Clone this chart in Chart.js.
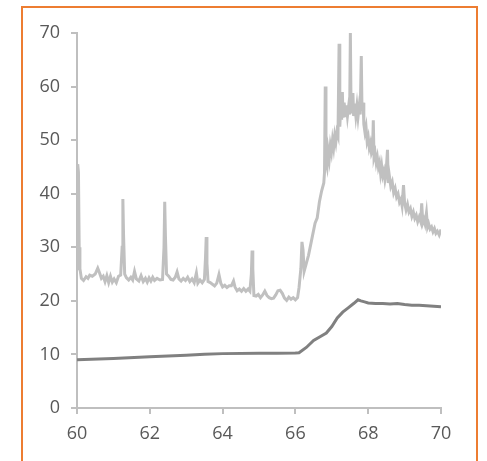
<!DOCTYPE html>
<html>
<head>
<meta charset="utf-8">
<script src="https://cdn.jsdelivr.net/npm/chart.js@4/dist/chart.umd.min.js"></script>
<style>
  html, body { margin: 0; padding: 0; background: #fff; overflow: hidden; }
  #frame {
    position: absolute; left: 21px; top: 6px; width: 453px; height: 470px;
    border: 2px solid #ED7D31;
  }
  #wrap { position: absolute; left: 0; top: 0; width: 487px; height: 461px; }
</style>
</head>
<body>
<div id="frame"></div>
<div id="wrap"><canvas id="chart"></canvas></div>
<script>
// noisy spectrum (light grey)
const lightX = [
  60.00, 60.02, 60.04, 60.06, 60.08, 60.12, 60.18, 60.25, 60.30, 60.35, 60.42, 60.50, 60.57, 60.62, 60.67,
  60.72, 60.77, 60.82, 60.87, 60.92, 60.97, 61.02, 61.08, 61.14, 61.20, 61.24, 61.26, 61.28, 61.31, 61.36,
  61.42, 61.48, 61.53, 61.58, 61.63, 61.70, 61.76, 61.82, 61.88, 61.93, 61.98, 62.03, 62.08, 62.13, 62.20,
  62.28, 62.35, 62.39, 62.41, 62.43, 62.46, 62.52, 62.58, 62.64, 62.70, 62.75, 62.80, 62.86, 62.92, 62.98,
  63.04, 63.10, 63.16, 63.22, 63.28, 63.32, 63.38, 63.44, 63.50, 63.53, 63.55, 63.57, 63.60, 63.66, 63.72,
  63.78, 63.84, 63.90, 63.95, 64.00, 64.06, 64.12, 64.18, 64.24, 64.30, 64.34, 64.40, 64.46, 64.52, 64.58,
  64.64, 64.70, 64.75, 64.79, 64.81, 64.83, 64.86, 64.92, 64.98, 65.04, 65.10, 65.16, 65.22, 65.28, 65.34,
  65.40, 65.46, 65.52, 65.58, 65.64, 65.70, 65.76, 65.82, 65.88, 65.94, 66.00, 66.06, 66.10, 66.15, 66.18,
  66.21, 66.24, 66.30, 66.36, 66.42, 66.48, 66.54, 66.60, 66.66, 66.72, 66.78, 66.80, 66.82, 66.84, 66.87,
  66.90, 66.93, 66.96, 66.99, 67.02, 67.05, 67.08, 67.11, 67.14, 67.17, 67.20, 67.22, 67.24, 67.27, 67.29,
  67.31, 67.34, 67.37, 67.40, 67.43,
  67.46, 67.49, 67.51, 67.53, 67.56, 67.58, 67.60, 67.63, 67.66, 67.69, 67.72, 67.75, 67.78, 67.81, 67.83,
  67.86, 67.88, 67.91, 67.94, 67.97,
  68.00, 68.03, 68.06, 68.09, 68.12, 68.14, 68.16, 68.19, 68.22, 68.25, 68.28, 68.31, 68.34, 68.37, 68.40,
  68.43, 68.46, 68.49, 68.53, 68.55,
  68.58, 68.62, 68.66, 68.70, 68.74, 68.78, 68.82, 68.86, 68.90, 68.93, 68.97, 69.00, 69.04, 69.08, 69.12,
  69.16, 69.20, 69.24, 69.28, 69.32, 69.36, 69.40, 69.44, 69.47, 69.50, 69.53, 69.56, 69.60, 69.63, 69.66,
  69.70, 69.74, 69.78, 69.82, 69.86, 69.90, 69.95, 70.00
];
const lightY = [
  26.0, 45.5, 44.0, 30.0, 26.0, 24.2, 23.8, 24.5, 24.2, 24.8, 24.6, 25.0, 26.1, 25.2, 24.2,
  24.6, 23.6, 24.7, 23.4, 24.6, 23.5, 24.1, 23.4, 24.6, 24.8, 30.0, 39.0, 32.0, 25.0, 24.3,
  23.9, 24.4, 23.9, 25.5, 24.1, 23.7, 24.7, 23.6, 24.2, 23.5, 24.3, 23.7, 24.4, 23.8, 24.2,
  23.9, 24.0, 30.0, 38.5, 32.0, 25.0, 24.6, 24.0, 23.9, 24.4, 25.4, 24.1, 23.7, 24.2, 23.8,
  24.4, 23.6, 24.1, 23.4, 25.2, 23.3, 23.9, 23.4, 24.0, 28.0, 31.9, 27.0, 23.6, 23.4, 23.1,
  22.8, 23.3, 24.9, 23.3, 22.6, 22.9, 22.5, 22.8, 22.8, 23.7, 22.6, 21.9, 22.2, 21.8, 22.3,
  21.8, 22.2, 21.8, 25.0, 29.4, 26.0, 21.0, 20.9, 21.2, 20.6, 21.1, 21.8, 21.0, 20.6, 20.4,
  20.5, 21.1, 21.9, 22.0, 21.4, 20.5, 20.1, 20.7, 20.3, 20.6, 20.2, 20.6, 22.5, 26.0, 31.0,
  29.5, 25.5, 27.0, 28.5, 30.5, 32.5, 34.5, 35.5, 38.5, 40.5, 42.0, 44.0, 60.0, 46.0, 45.0,
  48.0, 46.5, 49.0, 47.8, 50.0, 48.6, 50.8, 49.6, 51.5, 50.8, 68.0, 52.5, 55.5, 53.8, 59.0,
  54.2, 57.0, 54.3, 56.5, 54.5,
  56.2, 54.8, 70.0, 55.0, 57.5, 58.8, 54.5, 56.8, 54.6, 56.4, 54.3, 56.2, 54.8, 65.7, 55.5,
  57.0, 53.0, 51.5, 52.5, 49.8,
  50.6, 48.6, 49.4, 47.6, 48.2, 53.7, 46.8, 47.6, 45.8, 46.8, 45.0, 45.8, 43.8, 45.2, 43.4,
  44.2, 42.6, 43.8, 48.2, 42.0,
  43.4, 41.4, 42.2, 40.2, 41.0, 39.4, 40.0, 38.4, 39.0, 37.8, 41.6, 38.3, 37.0, 38.0, 36.6,
  37.2, 35.8, 36.6, 35.4, 36.0, 34.8, 35.6, 34.8, 38.2, 34.6, 35.2, 34.4, 36.4, 33.8, 34.4,
  33.4, 33.8, 32.9, 33.5, 32.6, 33.0, 32.3, 33.3
];

// smooth baseline (dark grey)
const darkX = [
  60.0, 61.0, 62.0, 63.0, 63.5, 64.0, 65.0, 65.5, 66.0, 66.1, 66.3, 66.5, 66.7, 66.85, 67.0,
  67.15, 67.3, 67.45, 67.6, 67.72, 67.8, 67.9, 68.0, 68.2, 68.4, 68.6, 68.8, 69.0, 69.2, 69.4,
  69.6, 69.8, 70.0
];
const darkY = [
  9.0, 9.25, 9.55, 9.85, 10.05, 10.15, 10.2, 10.2, 10.25, 10.3, 11.3, 12.6, 13.4, 14.0, 15.2,
  16.8, 17.9, 18.7, 19.5, 20.2, 20.0, 19.8, 19.6, 19.5, 19.5, 19.4, 19.5, 19.3, 19.2, 19.2,
  19.1, 19.0, 18.9
];

const toPoints = (xs, ys) => xs.map((x, i) => ({ x: x, y: ys[i] }));

const axisColor = '#bfbfbf';
const labelFont = { family: 'Open Sans', size: 18 };

const canvas = document.getElementById('chart');
canvas.width = 487;
canvas.height = 461;

new Chart(canvas, {
  type: 'line',
  data: {
    datasets: [
      {
        data: toPoints(lightX, lightY),
        borderColor: '#c0c0c0',
        borderWidth: 3,
        pointRadius: 0,
        tension: 0,
      },
      {
        data: toPoints(darkX, darkY),
        borderColor: '#808080',
        borderWidth: 3,
        pointRadius: 0,
        tension: 0,
      },
    ],
  },
  options: {
    responsive: false,
    animation: false,
    events: [],
    layout: { padding: { top: 33, right: 46, left: 0, bottom: 0 } },
    plugins: {
      legend: { display: false },
      tooltip: { enabled: false },
    },
    scales: {
      x: {
        type: 'linear',
        min: 60,
        max: 70,
        ticks: { stepSize: 2, color: '#595959', font: labelFont, padding: 9, maxRotation: 0 },
        grid: { drawOnChartArea: false, drawTicks: true, tickLength: 6, color: axisColor, lineWidth: 2 },
        border: { color: axisColor, width: 2 },
        afterFit: scale => { scale.height = 53; },
      },
      y: {
        min: 0,
        max: 70,
        ticks: { stepSize: 10, color: '#595959', font: labelFont, padding: 11 },
        grid: { drawOnChartArea: false, drawTicks: true, tickLength: 6, color: axisColor, lineWidth: 2 },
        border: { color: axisColor, width: 2 },
        afterFit: scale => { scale.width = 77; },
      },
    },
  },
});
</script>
</body>
</html>
